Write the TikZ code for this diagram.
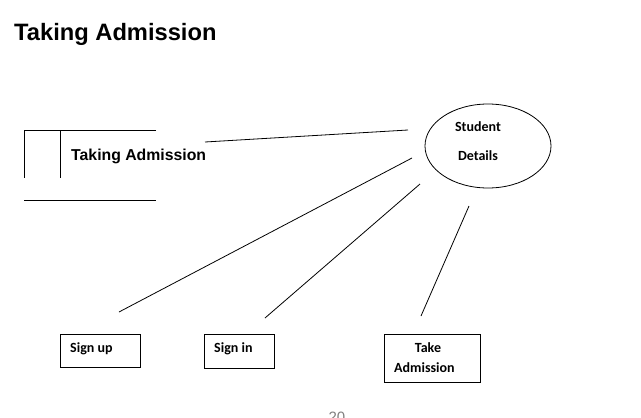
\documentclass[tikz,border=0pt]{standalone}
\usepackage{fontspec}
\setmainfont{Liberation Sans}
\newfontfamily\calib{Carlito}
\begin{document}
\begin{tikzpicture}[x=1pt,y=-1pt,
  ln/.style={line width=0.8pt},
  pbox/.style={draw,line width=0.8pt},
  clab/.style={font=\calib\bfseries\fontsize{14}{16}\selectfont,inner sep=0pt},
  alab/.style={font=\bfseries\fontsize{15.8}{18}\selectfont,inner sep=0pt}]
\useasboundingbox (0,0) rectangle (641,418);
\fill[white] (0,0) rectangle (641,418);
% title
\node[font=\bfseries\fontsize{23.7}{28}\selectfont,inner sep=0pt,anchor=base west] (title) at (14,40) {Taking Admission};
% data store
\draw[ln] (156,130) -- (24,130) -- (24,178);
\draw[ln] (60,130) -- (60,178);
\draw[ln] (24,200) -- (156,200);
\node[alab,anchor=base west] (ds) at (71,160) {Taking Admission};
% process
\draw[ln] (488,146) ellipse [x radius=63, y radius=42];
\node[clab,anchor=base] (st) at (478,131) {Student};
\node[clab,anchor=base] (dt) at (478,160) {Details};
\coordinate (proc) at (488,146);
% entities
\draw[pbox] (60,334) rectangle (140,367);
\node[clab,anchor=base west] (su) at (70,352) {Sign up};
\draw[pbox] (204,334) rectangle (274,368);
\node[clab,anchor=base west] (si) at (214,352) {Sign in};
\draw[pbox] (384,334) rectangle (480,382);
\node[clab,anchor=base] (ta1) at (428,352) {Take};
\node[clab,anchor=base west] (ta2) at (394,372) {Admission};
% connector ends
\coordinate (a1) at (205,142); \coordinate (a2) at (408,130);
\coordinate (b1) at (412,158); \coordinate (b2) at (119,312);
\coordinate (c1) at (420,184); \coordinate (c2) at (265,318);
\coordinate (d1) at (469,206); \coordinate (d2) at (421,316);
\draw[ln] (a1) -- (a2);
\draw[ln] (b1) -- (b2);
\draw[ln] (c1) -- (c2);
\draw[ln] (d1) -- (d2);
% page number (cut off, as in the reference)
\node[font=\fontsize{15}{18}\selectfont,text=gray,inner sep=0pt,anchor=base] (pg) at (337,422) {20};
\end{tikzpicture}
\end{document}
